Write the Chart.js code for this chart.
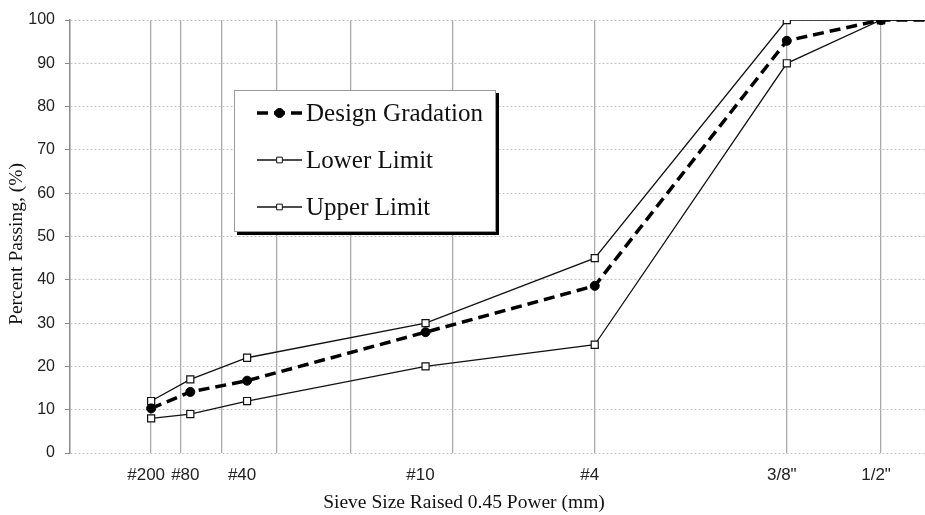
<!DOCTYPE html>
<html>
<head>
<meta charset="utf-8">
<script src="https://cdn.jsdelivr.net/npm/chart.js@4"></script>
<style>
  body { margin: 0; background: #fff; }
  #wrap { width: 925px; height: 515px; }
</style>
</head>
<body>
<div id="wrap"><canvas id="gradationChart" width="925" height="515"></canvas></div>
<script>
// sieve openings (mm) of the plotted points; the last one (3/4") lies past the visible axis
const sieveMm = [0.075, 0.18, 0.425, 2.0, 4.75, 9.5, 12.5, 19.0];
const sieveLabels = ["#200", "#80", "#40", "#10", "#4", "3/8\"", "1/2\"", "3/4\""];
const designGradation = [10.3, 14.1, 16.7, 27.9, 38.6, 95.2, 100, 100];
const lowerLimit = [8, 9, 12, 20, 25, 90, 100, 100];
const upperLimit = [12, 17, 22, 30, 45, 100, 100, 100];

// standard sieve openings (mm) used for the vertical grid lines
const gridMm = [0.075, 0.15, 0.3, 0.6, 1.18, 2.36, 4.75, 9.5, 12.5];

const POWER = 0.45;
const X_MAX = 3.285;
const toX = mm => Math.pow(mm, POWER);
const SERIF = "'Liberation Serif', 'Times New Roman', serif";
const SANS = "'Liberation Sans', Arial, sans-serif";

function makePoints(values) {
    return values.map((v, i) => ({ x: toX(sieveMm[i]), y: v }));
}

// x ticks: union of grid lines and labelled sieves that fall inside the axis
let xTicks = [];
gridMm.forEach(mm => xTicks.push({ mm: mm, label: "", grid: true }));
sieveMm.forEach((mm, i) => {
    const found = xTicks.find(t => t.mm === mm);
    if (found) found.label = sieveLabels[i];
    else xTicks.push({ mm: mm, label: sieveLabels[i], grid: false });
});
xTicks = xTicks.filter(t => toX(t.mm) <= X_MAX).sort((a, b) => a.mm - b.mm);

// legend drawn as a boxed panel inside the plot, plus the axis titles
const legendBox = {
    id: "legendBox",
    afterDraw(chart) {
        const ctx = chart.ctx;
        const area = chart.chartArea;
        const x = area.left + 164, y = area.top + 70, w = 262, h = 142;
        ctx.save();
        ctx.fillStyle = "#000";
        ctx.fillRect(x + 3, y + 3, w, h);
        ctx.fillStyle = "#fff";
        ctx.fillRect(x, y, w, h);
        ctx.strokeStyle = "#999";
        ctx.lineWidth = 1;
        ctx.strokeRect(x + 0.5, y + 0.5, w - 1, h - 1);

        chart.data.datasets.forEach((ds, i) => {
            const rowY = y + 23 + i * 47;
            const x1 = x + 23, x2 = x + 68;
            ctx.strokeStyle = ds.borderColor;
            ctx.lineWidth = ds.borderWidth;
            ctx.setLineDash(ds.borderDash || []);
            ctx.beginPath();
            ctx.moveTo(x1, rowY);
            ctx.lineTo(x2, rowY);
            ctx.stroke();
            ctx.setLineDash([]);
            ctx.fillStyle = ds.pointBackgroundColor;
            ctx.strokeStyle = ds.pointBorderColor;
            ctx.lineWidth = 1;
            Chart.helpers.drawPoint(ctx, {
                pointStyle: ds.pointStyle,
                radius: ds.pointStyle === "rect" ? 4 : ds.pointRadius,
                borderWidth: 1
            }, (x1 + x2) / 2, rowY);
            ctx.fillStyle = "#111";
            ctx.font = "25px " + SERIF;
            ctx.textBaseline = "middle";
            ctx.textAlign = "left";
            ctx.fillText(ds.label, x2 + 4, rowY + 1);
        });

        // axis titles
        ctx.fillStyle = "#111";
        ctx.font = "19.5px " + SERIF;
        ctx.textAlign = "center";
        ctx.textBaseline = "middle";
        ctx.fillText("Sieve Size Raised 0.45 Power (mm)", 464, area.bottom + 50);
        ctx.translate(17, area.top + 224);
        ctx.rotate(-Math.PI / 2);
        ctx.fillText("Percent Passing, (%)", 0, 0);
        ctx.restore();
    }
};

const chartEl = document.getElementById("gradationChart");
new Chart(chartEl.getContext("2d"), {
    type: "line",
    data: {
        datasets: [
            {
                label: "Design Gradation",
                data: makePoints(designGradation),
                borderColor: "#000",
                borderWidth: 3.5,
                borderDash: [11, 6],
                pointStyle: "circle",
                pointRadius: 4.5,
                pointBorderWidth: 1,
                pointBackgroundColor: "#000",
                pointBorderColor: "#000",
                tension: 0
            },
            {
                label: "Lower Limit",
                data: makePoints(lowerLimit),
                borderColor: "#111",
                borderWidth: 1.3,
                pointStyle: "rect",
                pointRadius: 5,
                pointBorderWidth: 1.2,
                pointBackgroundColor: "#fff",
                pointBorderColor: "#111",
                tension: 0
            },
            {
                label: "Upper Limit",
                data: makePoints(upperLimit),
                borderColor: "#111",
                borderWidth: 1.3,
                pointStyle: "rect",
                pointRadius: 5,
                pointBorderWidth: 1.2,
                pointBackgroundColor: "#fff",
                pointBorderColor: "#111",
                tension: 0
            }
        ]
    },
    options: {
        responsive: false,
        animation: false,
        layout: { autoPadding: false, padding: { top: 20, right: 0, left: 0, bottom: 0 } },
        plugins: {
            legend: { display: false },
            tooltip: { enabled: false }
        },
        scales: {
            x: {
                type: "linear",
                min: 0,
                max: X_MAX,
                afterBuildTicks: scale => {
                    scale.ticks = xTicks.map(t => ({ value: toX(t.mm) }));
                },
                afterFit: scale => {
                    scale.height = 62;
                    scale.paddingLeft = 0;
                    scale.paddingRight = 0;
                },
                ticks: {
                    autoSkip: false,
                    maxRotation: 0,
                    padding: 12,
                    labelOffset: -5,
                    color: "#222",
                    font: { family: SANS, size: 17 },
                    callback: (value, index) => xTicks[index].label
                },
                grid: {
                    drawTicks: false,
                    lineWidth: 1.3,
                    color: ctx => (ctx.tick && ctx.index !== undefined && !xTicks[ctx.index].grid)
                        ? "rgba(0,0,0,0)" : "#aaa"
                },
                border: { display: false }
            },
            y: {
                min: 0,
                max: 100,
                afterFit: scale => { scale.width = 70; },
                ticks: {
                    stepSize: 5,
                    padding: 10,
                    color: "#222",
                    font: { family: SANS, size: 16 },
                    callback: value => (value % 10 === 0 ? value : "")
                },
                grid: {
                    color: "#c4c4c4",
                    lineWidth: 1,
                    tickLength: 5,
                    tickColor: ctx => (ctx.tick && ctx.tick.value % 10 === 0 ? "#888" : "rgba(0,0,0,0)")
                },
                border: { color: "#8a8a8a", width: 1.5, dash: [2, 2] }
            }
        }
    },
    plugins: [legendBox]
});
</script>
</body>
</html>
